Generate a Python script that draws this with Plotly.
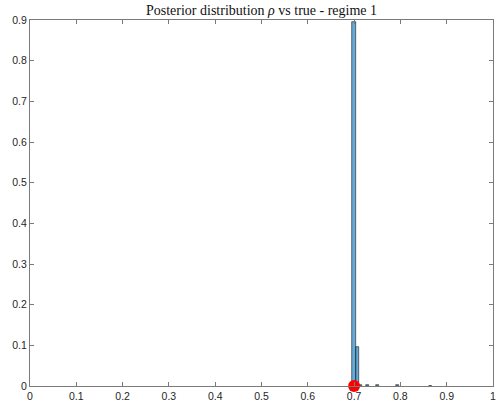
import plotly.graph_objects as go

# Histogram of posterior draws (probability-normalised), bins of equal width
bin_start = 0.6965
bin_width = 0.0072
bin_index = [0, 1, 2, 4, 7, 13, 23]
probability = [0.895, 0.096, 0.002, 0.002, 0.002, 0.002, 0.001]
bin_centers = [bin_start + bin_width * (k + 0.5) for k in bin_index]

# True parameter value
true_rho = [0.7]
true_y = [0.0]

x_ticks = [i / 10 for i in range(11)]
x_labels = ["0", "0.1", "0.2", "0.3", "0.4", "0.5", "0.6", "0.7", "0.8", "0.9", "1"]
y_ticks = [i / 10 for i in range(10)]
y_labels = ["0", "0.1", "0.2", "0.3", "0.4", "0.5", "0.6", "0.7", "0.8", "0.9"]

axis_color = "#7a7a7a"
tick_font = dict(family="Liberation Sans, Arial, sans-serif", size=10.5, color="#262626")

fig = go.Figure()
fig.add_trace(go.Bar(
    x=bin_centers, y=probability, width=bin_width,
    marker=dict(color="rgba(0,114,189,0.6)", line=dict(color="#1a1a1a", width=0.6)),
    showlegend=False,
))
fig.add_trace(go.Scatter(
    x=true_rho, y=true_y, mode="markers",
    marker=dict(color="#ff0000", size=12, line=dict(width=0)),
    cliponaxis=False, showlegend=False,
))

fig.update_layout(
    width=496, height=407,
    margin=dict(l=30, r=3, t=20, b=21),
    paper_bgcolor="white", plot_bgcolor="white",
    bargap=0,
    title=dict(
        text="Posterior distribution <i>ρ</i> vs true - regime 1",
        x=(30 + 493) / 2 / 496, xanchor="center", y=1 - 10 / 407, yanchor="middle",
        font=dict(family="Liberation Serif, Times New Roman, serif", size=14, color="#111"),
    ),
)
fig.update_xaxes(
    range=[0, 1], tickvals=x_ticks, ticktext=x_labels,
    ticks="inside", ticklen=4, tickcolor=axis_color, tickwidth=1,
    showline=True, linecolor=axis_color, linewidth=1, mirror="ticks",
    showgrid=False, zeroline=False, tickfont=tick_font,
    ticklabeloverflow="allow", automargin=False,
)
fig.update_yaxes(
    range=[0, 0.9], tickvals=y_ticks, ticktext=y_labels,
    ticks="inside", ticklen=4, tickcolor=axis_color, tickwidth=1,
    showline=True, linecolor=axis_color, linewidth=1, mirror="ticks",
    showgrid=False, zeroline=False, tickfont=tick_font,
    ticklabeloverflow="allow", automargin=False,
)

fig.write_html("out.html")
